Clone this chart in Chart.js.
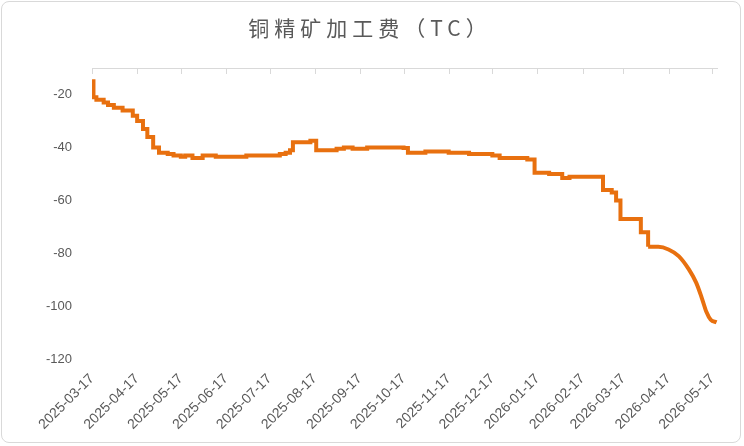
<!DOCTYPE html>
<html><head><meta charset="utf-8">
<script src="https://cdn.jsdelivr.net/npm/chart.js@4"></script>
<style>
html,body{margin:0;padding:0;background:#fff;}
#wrap{position:absolute;left:1px;top:1px;width:740px;height:442px;border:1px solid #d9d9d9;border-radius:8px;box-sizing:border-box;}
#title{position:absolute;left:0;top:12px;width:740px;text-align:center;font:21px 'Noto Sans CJK SC';letter-spacing:5px;color:#595959;}
canvas{display:block;}
</style></head><body>
<div id="wrap"><canvas id="c"></canvas></div>
<div id="title">铜精矿加工费（TC）</div>
<script>
const startDate = '2025-03-17';
const tickLabels = ['2025-03-17','2025-04-17','2025-05-17','2025-06-17','2025-07-17','2025-08-17','2025-09-17','2025-10-17','2025-11-17','2025-12-17','2026-01-17','2026-02-17','2026-03-17','2026-04-17','2026-05-17'];
const dates = ['2025-03-17','2025-03-18','2025-03-20','2025-03-25','2025-03-28','2025-04-01','2025-04-07','2025-04-14','2025-04-17','2025-04-21','2025-04-24','2025-04-28','2025-05-02','2025-05-08','2025-05-12','2025-05-17','2025-05-20','2025-05-25','2025-06-01','2025-06-10','2025-06-17','2025-07-01','2025-07-17','2025-07-24','2025-07-28','2025-07-31','2025-08-02','2025-08-14','2025-08-18','2025-08-25','2025-09-01','2025-09-06','2025-09-12','2025-09-17','2025-09-22','2025-10-01','2025-10-17','2025-10-20','2025-11-01','2025-11-17','2025-12-01','2025-12-17','2025-12-22','2026-01-10','2026-01-15','2026-01-25','2026-02-03','2026-02-08','2026-02-17','2026-03-01','2026-03-03','2026-03-09','2026-03-12','2026-03-15','2026-03-25','2026-03-29','2026-04-03'];
const values = [-15,-21,-22,-23,-24,-25,-26,-28,-30,-33,-36,-40,-42,-42.5,-43,-43.5,-43,-44,-43,-43.5,-43.5,-43,-43,-42.5,-42,-41,-38,-37.5,-41,-41,-40.5,-40,-40.5,-40.5,-40,-40,-40.2,-42,-41.5,-42,-42.5,-43,-44,-44.5,-49.5,-50,-51.5,-51,-51,-51,-56,-57,-60,-67,-67,-72,-77.5];
const tailDates = ['2026-04-03','2026-04-10','2026-04-17','2026-04-24','2026-05-01','2026-05-06','2026-05-10','2026-05-13','2026-05-16','2026-05-20'];
const tailValues = [-77.5,-77.5,-78.5,-81,-86,-91,-97,-102,-105,-106];
const DAY = 86400000;
const off = d => Math.round((Date.parse(d) - Date.parse(startDate)) / DAY);
const pts = dates.map((d, i) => ({x: off(d), y: values[i]}));
const tailPts = tailDates.map((d, i) => ({x: off(d), y: tailValues[i]}));
const tickOffsets = tickLabels.map(off);
const labelMap = {}; tickLabels.forEach(t => labelMap[off(t)] = t);

const topAxis = {
  id: 'topAxis',
  afterDraw(chart) {
    const {ctx, chartArea: a, scales: {x}} = chart;
    ctx.save();
    ctx.strokeStyle = '#d9d9d9'; ctx.lineWidth = 1;
    ctx.beginPath();
    ctx.moveTo(a.left, a.top + 0.5); ctx.lineTo(a.right, a.top + 0.5);
    tickOffsets.forEach(v => { const px = Math.round(x.getPixelForValue(v)) + 0.5; ctx.moveTo(px, a.top); ctx.lineTo(px, a.top + 6); });
    ctx.stroke();
    ctx.restore();
  }
};

new Chart(document.getElementById('c'), {
  type: 'line',
  data: { datasets: [
    { data: pts, borderColor: '#E8700F', borderWidth: 4, pointRadius: 0, stepped: true, fill: false },
    { data: tailPts, borderColor: '#E8700F', borderWidth: 4, pointRadius: 0, tension: 0.4, cubicInterpolationMode: 'monotone', fill: false }
  ] },
  options: {
    responsive: true, maintainAspectRatio: false, animation: false,
    layout: { padding: { left: 32, right: 22, top: 66, bottom: 6 } },
    plugins: { legend: { display: false }, tooltip: { enabled: false } },
    scales: {
      x: { type: 'linear', min: 0, max: 430,
        afterBuildTicks: s => { s.ticks = tickOffsets.map(v => ({value: v})); },
        ticks: { autoSkip: false, maxRotation: 45, minRotation: 45, color: '#595959', font: { size: 14, family: 'Liberation Sans' }, callback: v => labelMap[v] || '' },
        grid: { display: false }, border: { display: false } },
      y: { min: -120, max: -10,
        afterBuildTicks: s => { s.ticks = [-120,-100,-80,-60,-40,-20].map(v => ({value: v})); },
        ticks: { color: '#595959', font: { size: 13, family: 'Liberation Sans' }, padding: 12 },
        grid: { display: false }, border: { display: false } }
    }
  },
  plugins: [topAxis]
});
</script></body></html>
